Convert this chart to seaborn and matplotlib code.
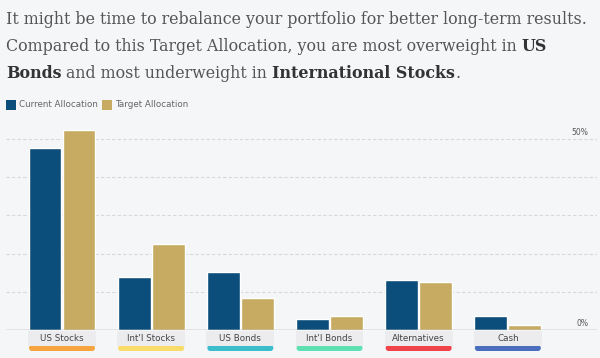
import pandas as pd
import matplotlib.pyplot as plt
import matplotlib.transforms as mtransforms
from matplotlib.patches import FancyBboxPatch
import seaborn as sns

# Chart data
categories = ["US Stocks", "Int'l Stocks", "US Bonds", "Int'l Bonds", "Alternatives", "Cash"]
current = [47.6, 13.9, 15.2, 2.9, 13.1, 3.7]
target = [52.4, 22.5, 8.4, 3.7, 12.5, 1.3]
series_names = ["Current Allocation", "Target Allocation"]
cat_colors = ["#f7a540", "#f9dc6a", "#3cbdcb", "#5fe0b2", "#f0434a", "#4a6dbd"]
y_ticks = [0, 50]

bg = "#f5f6f8"
colors = {"Current Allocation": "#0c4e7b", "Target Allocation": "#c8ab63"}

df = pd.DataFrame({
    "Category": categories * 2,
    "Series": [series_names[0]] * len(categories) + [series_names[1]] * len(categories),
    "Value": current + target,
})

sns.set_style("white")
plt.rcParams["font.family"] = ["DejaVu Sans"]

fig = plt.figure(figsize=(6, 3.58), dpi=100, facecolor=bg)
ax = fig.add_axes([6 / 600, 1 - 330 / 358, 591 / 600, 210 / 358], facecolor=bg)

sns.barplot(data=df, x="Category", y="Value", hue="Series", palette=colors,
            width=0.76, gap=0.03, saturation=1, legend=False, ax=ax)

ax.set_xlim(-0.628, 6.0)
ax.set_ylim(0, 55)
ax.set_xlabel("")
ax.set_ylabel("")
ax.set_xticks([])
ax.set_yticks([])
for s in ax.spines.values():
    s.set_visible(False)

# gridlines
for v in [10, 20, 30, 40, 50]:
    ax.axhline(v, color="#d6d8dc", lw=0.8, ls=(0, (3, 2)), zorder=0)
ax.axhline(0, color="#9a9a9a", lw=1, zorder=3)

for v in y_ticks:
    ax.text(0.985, v + 0.6, f"{v}%", transform=ax.get_yaxis_transform(),
            ha="right", va="bottom", fontsize=5.5, color="#555555")

# category label boxes under the axis
trans = mtransforms.blended_transform_factory(ax.transData, ax.transAxes)
for i, (cat, c) in enumerate(zip(categories, cat_colors)):
    strip = FancyBboxPatch((i - 0.37, -21 / 210), 0.74, 6 / 210,
                           boxstyle="round,pad=0,rounding_size=0.03",
                           transform=trans, clip_on=False, fc=c, ec="none", zorder=2,
                           mutation_aspect=0.5)
    ax.add_patch(strip)
    box = FancyBboxPatch((i - 0.38, -16 / 210), 0.76, 15 / 210,
                         boxstyle="square,pad=0", transform=trans, clip_on=False,
                         fc="#ececee", ec="none", zorder=3)
    ax.add_patch(box)
    ax.text(i, -8.5 / 210, cat, transform=trans, ha="center", va="center",
            fontsize=6.3, color="#444444", zorder=4)

# legend
for x0, name in [(6, series_names[0]), (102, series_names[1])]:
    fig.patches.append(plt.Rectangle((x0 / 600, 1 - 110 / 358), 10 / 600, 10 / 358,
                                     transform=fig.transFigure, fc=colors[name], ec="none"))
    fig.text((x0 + 13) / 600, 1 - 105 / 358, name, fontsize=6.3, color="#666666", va="center")

# heading with bold words
lines = [
    [("It might be time to rebalance your portfolio for better long-term results.", "normal")],
    [("Compared to this Target Allocation, you are most overweight in ", "normal"), ("US", "bold")],
    [("Bonds", "bold"), (" and most underweight in ", "normal"),
     ("International Stocks", "bold"), (".", "normal")],
]
renderer = fig.canvas.get_renderer()
# size heading so the first line spans the same width as in the original
probe = fig.text(0, 0, lines[0][0][0], fontsize=12, family="DejaVu Serif")
fs = 12 * 582 / probe.get_window_extent(renderer).width
probe.remove()

for k, parts in enumerate(lines):
    x = 6
    y = 24 + 27 * k
    for txt, w in parts:
        t = fig.text(x / 600, 1 - y / 358, txt, fontsize=fs, family="DejaVu Serif",
                     weight=w, color="#555555" if w == "normal" else "#333333",
                     va="baseline")
        x += t.get_window_extent(renderer).width

fig.savefig("out.png", dpi=100, facecolor=bg)
